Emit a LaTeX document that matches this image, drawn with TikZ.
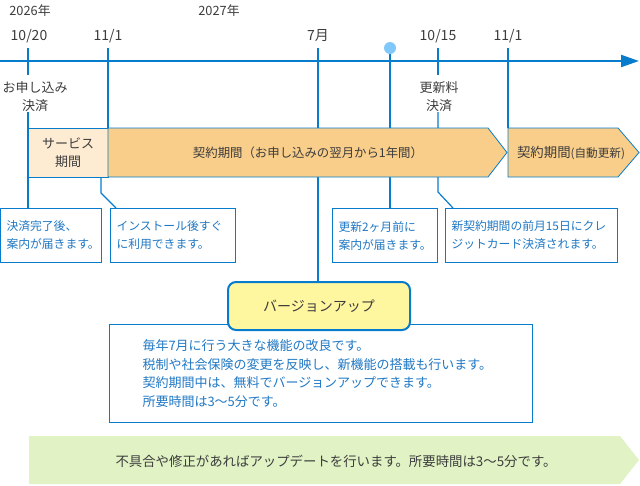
\documentclass[tikz,border=0pt]{standalone}
\usepackage{fontspec}
\setmainfont{Noto Sans CJK JP}
\usetikzlibrary{
  arrows.meta,
  positioning,
  calc
}
\definecolor{lineblue}{RGB}{8,124,204}
\definecolor{noteblue}{RGB}{32,120,196}
\definecolor{dotblue}{RGB}{128,200,250}
\definecolor{inkgray}{RGB}{60,60,60}
\definecolor{servfill}{RGB}{253,235,210}
\definecolor{contfill}{RGB}{249,206,138}
\definecolor{verfill}{RGB}{255,246,160}
\definecolor{fixfill}{RGB}{225,243,196}

\tikzset{
  yearlbl/.style={font=\fontsize{12.8}{14}\selectfont, text=inkgray, inner sep=0pt},
  datelbl/.style={font=\fontsize{14}{15}\selectfont, text=inkgray, inner sep=0pt},
  eventlbl/.style={font=\fontsize{13}{18}\selectfont, text=inkgray, align=center, inner sep=0pt},
  tick/.style={draw=lineblue, line width=1.2pt},
  band/.style={draw=lineblue, line width=0.8pt},
  notebox/.style={draw=lineblue, line width=1pt, fill=white, anchor=north west,
    font=\fontsize{11.8}{18}\selectfont, text=noteblue, align=left,
    inner xsep=6pt, minimum height=54pt}
}

\begin{document}
\begin{tikzpicture}[x=1pt,y=-1pt]
  \useasboundingbox (0,0) rectangle (640,485);

  % years and dates
  \node[yearlbl] (y2026) at (30,11) {2026年};
  \node[yearlbl] (y2027) at (219,11) {2027年};
  \node[datelbl] (d1020) at (29,36) {10/20};
  \node[datelbl] (d1101) at (108,36) {11/1};
  \node[datelbl] (d7) at (318,36) {7月};
  \node[datelbl] (d1015) at (438,36) {10/15};
  \node[datelbl] (d1101b) at (508,36) {11/1};

  \coordinate (k1020) at (28,48);
  \coordinate (k1101) at (108,48);
  \coordinate (k7) at (318,48);
  \coordinate (kdot) at (390,48);
  \coordinate (k1015) at (438,48);
  \coordinate (k1101b) at (508,48);

  % payment events
  \node[eventlbl] (pay) at (35,97) {お申し込み\\決済};
  \node[eventlbl] (renew) at (439,97) {更新料\\決済};

  % notes under the bands
  \node[notebox, minimum width=101pt, text width=89pt] (n1) at (0,208)
    {決済完了後、\\案内が届きます。};
  \node[notebox, minimum width=125pt, text width=113pt] (n2) at (110,208)
    {インストール後すぐ\\に利用できます。};
  \node[notebox, minimum width=105pt, text width=93pt] (n3) at (332,208)
    {更新2ヶ月前に\\案内が届きます。};
  \node[notebox, minimum width=172pt, text width=160pt] (n4) at (445,208)
    {新契約期間の前月15日にクレ\\ジットカード決済されます。};

  % ticks and leaders
  \draw[tick] (k1020) -- (k1020 |- 0,75);
  \draw[tick] (pay.south -| k1020) -- (k1020 |- n1.north);
  \draw[tick] (k1101) -- (k1101 |- 0,128);
  \draw[tick] (k7) -- (k7 |- 0,283);
  \draw[tick] (kdot) -- (kdot |- n3.north);
  \draw[tick] (k1015) -- (k1015 |- 0,75);
  \draw[tick] (renew.south -| k1015) -- (k1015 |- 0,192) -- ($(n4.north west)+(8,0)$);
  \draw[tick] (k1101b) -- (k1101b |- 0,128);
  \draw[tick] (101,177) -- (101,193) -- ($(n2.north west)+(6,0)$);

  % timeline
  \draw[lineblue, line width=2.2pt, -{Triangle[length=18pt,width=12pt]}]
    (0,61) -- (639,61);
  \node[circle, fill=dotblue, minimum size=12pt, inner sep=0pt] (dot) at (kdot) {};

  % periods
  \node[band, fill=servfill, minimum width=80pt, minimum height=49pt,
    eventlbl] (serv) at (68,152.5) {サービス\\期間};
  \draw[band, fill=contfill] (108,128) -- (488,128) -- (507,152.5)
    -- (488,177) -- (108,177) -- cycle;
  \node[font=\fontsize{12.4}{14}\selectfont, text=inkgray] (cont) at (308,153)
    {契約期間（お申し込みの翌月から1年間）};
  \draw[band, fill=contfill] (508,128) -- (618,128) -- (639,152.5)
    -- (618,177) -- (508,177) -- cycle;
  \node[text=inkgray, inner sep=0pt] (auto) at (571,153)
    {{\fontsize{13.4}{14}\selectfont 契約期間}{\fontsize{11.6}{14}\selectfont (自動更新)}};

  % version up
  \node[draw=lineblue, line width=1pt, anchor=north west, minimum width=423pt,
    minimum height=98pt, text width=357pt, inner xsep=33pt, align=left,
    font=\fontsize{13}{18.5}\selectfont, text=noteblue] (verbox) at (109,324)
    {毎年7月に行う大きな機能の改良です。\\
     税制や社会保険の変更を反映し、新機能の搭載も行います。\\
     契約期間中は、無料でバージョンアップできます。\\
     所要時間は3〜5分です。};
  \node[draw=lineblue, line width=2pt, fill=verfill, rounded corners=8pt,
    minimum width=182pt, minimum height=48pt, text=inkgray,
    font=\fontsize{14}{15}\selectfont] (verup) at (319,306) {バージョンアップ};

  % updates
  \fill[fixfill] (29,436) -- (620,436) -- (639,460) -- (620,484)
    -- (29,484) -- cycle;
  \node[font=\fontsize{13.4}{15}\selectfont, text=inkgray] (fix) at (336,461)
    {不具合や修正があればアップデートを行います。所要時間は3〜5分です。};
\end{tikzpicture}
\end{document}
